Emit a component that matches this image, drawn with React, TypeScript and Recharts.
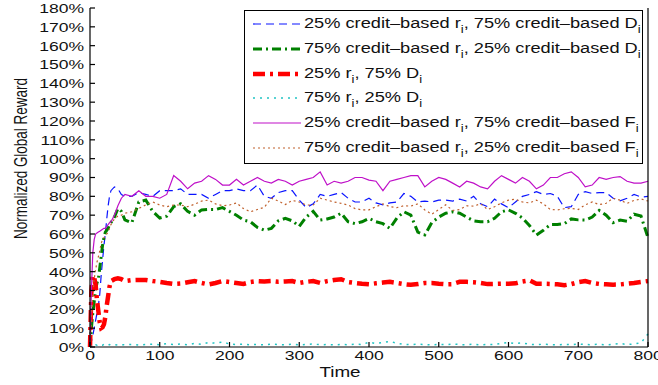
import React from "react"
import { LineChart, Line, XAxis, YAxis } from "recharts"

// time steps (finer at the start where the curves climb)
const TIME = [
  0, 2, 4, 6, 8, 10, 12, 14, 16, 18,
  20, 22, 24, 26, 28, 30, 35, 40, 45,
  50, 60, 70, 80, 90, 100, 110, 120, 130, 140,
  150, 160, 170, 180, 190, 200, 210, 220, 230, 240,
  250, 260, 270, 280, 290, 300, 310, 320, 330, 340,
  350, 360, 370, 380, 390, 400, 410, 420, 430, 440,
  450, 460, 470, 480, 490, 500, 510, 520, 530, 540,
  550, 560, 570, 580, 590, 600, 610, 620, 630, 640,
  650, 660, 670, 680, 690, 700, 710, 720, 730, 740,
  750, 760, 770, 780, 790, 800,
]

// 25% credit-based r, 75% credit-based D (blue dashed)
const CB_R25_D75 = [
  0, 3, 6, 10, 14, 18, 22, 28, 38, 46,
  54, 60, 68, 75, 80, 83, 85, 84, 81,
  80, 80, 82, 81, 80, 83, 83, 83, 84, 81,
  81, 81, 79, 81, 83, 83, 84, 83, 83, 86,
  80, 79, 82, 83, 83, 78, 74, 76, 81, 80,
  81, 82, 79, 77, 77, 79, 76.5, 75.5, 76.5, 77,
  81.5, 80, 77, 77.5, 77, 78, 78, 77.5, 78.5, 77.5,
  80, 76, 74.5, 78.5, 76, 74, 77, 80, 81, 82.5,
  81, 81.5, 80, 74, 74.5, 81, 82.5, 81.5, 82, 82,
  79, 77.6, 79, 81, 79.6, 80,
]

// 75% credit-based r, 25% credit-based D (green dash-dot)
const CB_R75_D25 = [
  0, 10, 18, 24, 30, 34, 36, 42, 48, 54,
  58, 61, 62, 63, 65, 66, 69, 73.5, 72,
  67.5, 66, 77, 78, 72, 68.5, 69.5, 74.5, 76, 72,
  70, 72.8, 73, 73, 74, 72, 70, 67.4, 66.5, 63.5,
  62, 63, 67, 68.3, 67, 64, 69, 72, 67.4, 68,
  69, 71, 66.5, 65.5, 66.5, 68.3, 66.5, 65.5, 63, 68.5,
  71.8, 70, 61, 59.5, 66, 69, 71, 71.8, 71, 69,
  67, 66.5, 66.5, 68.3, 71.8, 72.8, 71, 68.5, 64.5, 59.5,
  62, 65, 65, 65.5, 68, 67.5, 67.4, 69, 72.5, 70,
  66, 67.4, 66.8, 70.5, 69.5, 58,
]

// 25% r, 75% D (red dash-dot)
const R25_D75 = [
  0, 30, 38, 37, 33, 25, 19, 13, 10, 10.5,
  12, 16, 22, 27, 32, 35, 36, 36.5, 36,
  35, 35.5, 35.6, 35.6, 35, 34.6, 34, 33.5, 33.7, 34.4,
  35, 34, 33.2, 34, 35, 34.5, 34, 33.5, 34.5, 35,
  34.8, 35, 34.6, 34.8, 35, 34, 34.6, 35, 34, 35,
  35.6, 36, 34.5, 34, 33.6, 33.3, 33.8, 34.2, 34.6, 34,
  33.4, 33, 33.4, 34, 34, 33.6, 33.3, 33.4, 34.6, 34.6,
  34.4, 34, 33.4, 33.5, 33.6, 33.6, 33.8, 34.8, 35.4, 33.6,
  33.6, 33.5, 33.3, 32.8, 33.4, 34.4, 35, 34, 33.5, 33.3,
  33.1, 33.2, 33.6, 34, 34.5, 35,
]

// 75% r, 25% D (cyan dotted)
const R75_D25 = [
  0, 1, 1.5, 1, 1.2, 1, 1.3, 1, 1.2, 1,
  1.4, 1, 1.2, 1, 1.3, 1, 1.2, 1, 1.3,
  1.1, 1.4, 1, 1.3, 1.5, 1.2, 1.8, 1.3, 1.6, 1.2,
  1.9, 1.4, 2.4, 2, 2.6, 1.6, 1.3, 1.5, 1.2, 1.4,
  1.1, 1.6, 1.3, 1.2, 1.5, 1.1, 1.4, 1.6, 1.2, 1.3,
  1.1, 1.4, 1.2, 1.5, 1.3, 2.6, 1.8, 2.4, 3, 2,
  1.4, 1.2, 1.5, 1.3, 1.1, 1.4, 1.2, 1.6, 1.3, 1.2,
  1.5, 1.1, 1.4, 1.3, 1.9, 2.4, 1.8, 2.2, 1.4, 1.2,
  1.5, 1.3, 1.1, 1.4, 1.2, 1.6, 1.3, 1.2, 1.5, 1.1,
  1.4, 1.9, 1.3, 1.6, 2.2, 7,
]

// 25% credit-based r, 75% credit-based F (magenta solid)
const CB_R25_F75 = [
  0, 30, 50, 57, 60, 60.5, 61, 61.5, 62, 62.5,
  63, 63, 64, 65, 66, 66.5, 70, 75, 79,
  81, 80, 83, 80, 80, 79, 81, 91, 88, 84,
  87, 88, 91, 89, 86, 86, 89, 86, 88, 90,
  88, 87, 89, 88, 86, 88, 89, 90, 93, 86,
  88, 87, 88, 90, 90, 88.6, 88, 83, 88, 89,
  90, 91, 91, 85, 88, 90, 89, 87, 85, 88,
  87, 85, 84, 88, 91, 89, 87, 90, 88, 84,
  86, 90, 90, 92, 93, 90, 85, 86, 90, 89,
  90, 90.5, 88, 87, 87, 88,
]

// 75% credit-based r, 25% credit-based F (brown dotted)
const CB_R75_F25 = [
  0, 15, 28, 36, 41, 45, 48, 51, 55, 57,
  58, 59, 60, 61, 63, 65, 68, 69.5, 70,
  71, 71.8, 73.6, 75.5, 77, 75.4, 74.5, 75.4, 75.4, 74.5,
  75.8, 77.5, 78, 76, 75, 75.4, 76.5, 73.5, 71.8, 73,
  74.2, 79, 77.5, 75.6, 77.8, 77, 75.4, 75.4, 79, 78,
  77, 76.3, 75.4, 73.5, 72.8, 72.8, 74.5, 76, 74.5, 74,
  75, 74.8, 76, 72.8, 70.5, 73, 75.5, 72.5, 73, 75,
  74.8, 76, 73, 74.5, 76.5, 78, 78.5, 77, 76.5, 78,
  76, 73, 72.8, 73.4, 73.6, 73, 75.5, 77, 75.6, 76.3,
  79, 78, 76.3, 77.8, 78.6, 77.5,
]

const X_TICKS = [0, 100, 200, 300, 400, 500, 600, 700, 800]
const Y_TICKS = [0, 10, 20, 30, 40, 50, 60, 70, 80, 90, 100, 110, 120, 130, 140, 150, 160, 170, 180]

const FONT = "'Liberation Sans', Arial, Helvetica, sans-serif"
// the reference figure is stretched sideways, so text gets the same stretch
const STRETCH = 1.3

const I = () => <span style={{ fontSize: 10, position: "relative", top: 5 }}>i</span>

const SERIES = [
  { key: "a", values: CB_R25_D75, color: "#0a14ff", width: 1.2, dash: "8 5",
    label: <>25% credit–based r<I />, 75% credit–based D<I /></> },
  { key: "b", values: CB_R75_D25, color: "#008000", width: 3, dash: "9 4 2 4",
    label: <>75% credit–based r<I />, 25% credit–based D<I /></> },
  { key: "c", values: R25_D75, color: "#ff0000", width: 4.5, dash: "12 5 3 5",
    label: <>25% r<I />, 75% D<I /></> },
  { key: "d", values: R75_D25, color: "#20c4c4", width: 1.5, dash: "2 5",
    label: <>75% r<I />, 25% D<I /></> },
  { key: "e", values: CB_R25_F75, color: "#bf10c8", width: 1.2, dash: undefined,
    label: <>25% credit–based r<I />, 75% credit–based F<I /></> },
  { key: "f", values: CB_R75_F25, color: "#c0602c", width: 1.2, dash: "2 3",
    label: <>75% credit–based r<I />, 25% credit–based F<I /></> },
]

const rows = TIME.map((t, i) => {
  const row: any = { t }
  SERIES.forEach((s) => { row[s.key] = s.values[i] })
  return row
})

/* eslint-disable @typescript-eslint/no-explicit-any */
function XTick({ x, y, payload }: any) {
  return (
    <text transform={`translate(${x},${y}) scale(${STRETCH},1)`} textAnchor="middle" dy="0.72em"
      fontSize={13.5} fontFamily={FONT} fill="#111">
      {payload.value}
    </text>
  )
}

function YTick({ x, y, payload }: any) {
  return (
    <text transform={`translate(${x},${y}) scale(${STRETCH},1)`} textAnchor="end" dy="0.36em"
      fontSize={13.5} fontFamily={FONT} fill="#111">
      {payload.value}%
    </text>
  )
}

function TimeLabel(props: any) {
  const vb = props.viewBox ?? { x: 90, y: 347, width: 558, height: 38 }
  return (
    <text transform={`translate(${vb.x + vb.width / 2 - 29},${vb.y + 30}) scale(${STRETCH},1)`}
      textAnchor="middle" fontSize={14.5} fontFamily={FONT} fill="#111">
      Time
    </text>
  )
}

function RewardLabel(props: any) {
  const vb = props.viewBox ?? { x: 0, y: 8, width: 90, height: 339 }
  return (
    <text transform={`translate(${vb.x + 20},${vb.y + vb.height / 2 - 19}) rotate(-90) scale(1,1.4)`}
      textAnchor="middle" dy="0.36em" fontSize={13.5} fontFamily={FONT} fill="#111">
      Normalized Global Reward
    </text>
  )
}

export default function App() {
  return (
    <div style={{ position: "absolute", left: 0, top: 0, width: 658, height: 385, background: "#fff" }}>
      <LineChart width={658} height={385} data={rows} margin={{ top: 8, right: 9, bottom: 0, left: 0 }}>
        <XAxis dataKey="t" type="number" domain={[0, 800]} ticks={X_TICKS} interval={0}
          height={38} tickSize={-5} tickMargin={8} stroke="#000" strokeWidth={1.2}
          tick={<XTick />} label={TimeLabel} />
        <XAxis xAxisId="top" orientation="top" dataKey="t" type="number" domain={[0, 800]} ticks={X_TICKS}
          interval={0} height={0} tickSize={-5} tick={false} stroke="#000" strokeWidth={1.2} />
        <YAxis type="number" domain={[0, 180]} ticks={Y_TICKS} interval={0} width={90}
          tickSize={-5} tickMargin={11} stroke="#000" strokeWidth={1.2}
          tick={<YTick />} label={RewardLabel} />
        <YAxis yAxisId="right" orientation="right" type="number" domain={[0, 180]} ticks={Y_TICKS}
          interval={0} width={1} tickSize={-5} tick={false} stroke="#000" strokeWidth={1.2} />
        {SERIES.map((s) => (
          <Line key={s.key} dataKey={s.key} type="linear" stroke={s.color} strokeWidth={s.width}
            strokeDasharray={s.dash} dot={false} activeDot={false} isAnimationActive={false} />
        ))}
      </LineChart>

      {/* legend box, top right inside the plot */}
      <div style={{
        position: "absolute", left: 244, top: 10, width: 397, height: 151,
        border: "1.2px solid #000", background: "#fff", paddingTop: 1,
      }}>
        {SERIES.map((s) => (
          <div key={s.key} style={{ height: 24.8, position: "relative" }}>
            <svg width={48} height={10} style={{ position: "absolute", left: 8, top: 7 }}>
              <line x1={0} y1={5} x2={48} y2={5} stroke={s.color} strokeWidth={s.width}
                strokeDasharray={s.dash} />
            </svg>
            <span style={{
              position: "absolute", left: 59, top: 3, whiteSpace: "nowrap", display: "inline-block",
              transform: `scaleX(${STRETCH})`, transformOrigin: "left center",
              fontFamily: FONT, fontSize: 14, color: "#111", lineHeight: "16px",
            }}>
              {s.label}
            </span>
          </div>
        ))}
      </div>
    </div>
  )
}
